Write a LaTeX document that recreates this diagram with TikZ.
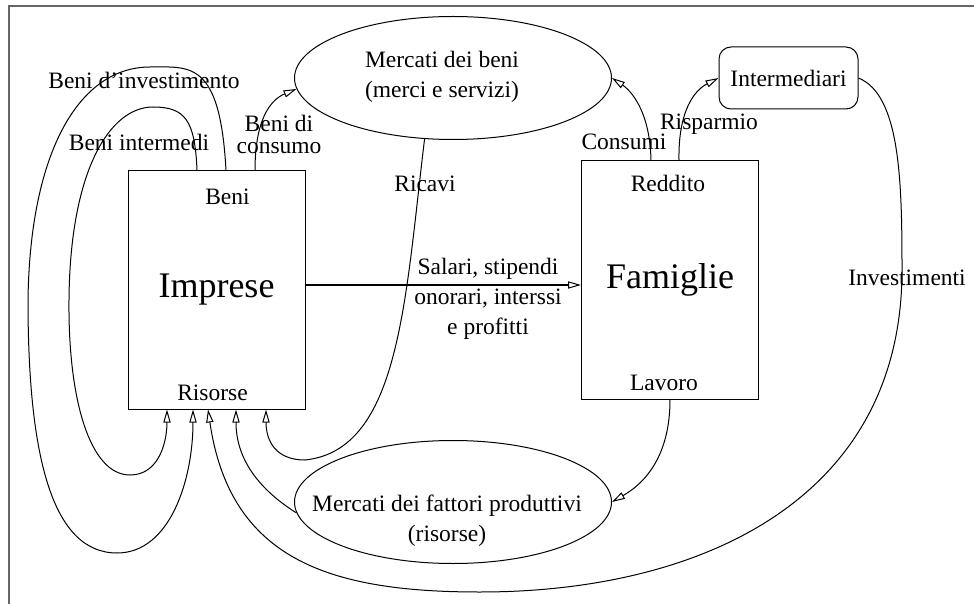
\documentclass[tikz,border=0pt]{standalone}
\usepackage{fontspec}
\setmainfont{Liberation Serif}
\usetikzlibrary{shapes.geometric,arrows.meta,positioning,calc}

\begin{document}
\begin{tikzpicture}[x=0.5pt,y=-0.5pt,line width=0.5pt,
    font=\fontsize{11.75}{15}\selectfont,
    settore/.style={draw,rectangle,minimum width=88.5pt,minimum height=119pt,inner sep=0pt,font=\fontsize{18}{22}\selectfont},
    mercato/.style={draw,ellipse,minimum width=158.5pt,minimum height=61.5pt,inner sep=0pt},
    flusso/.style={-{Triangle[open,length=6.5pt,width=3.6pt]}},
    etichetta/.style={align=center}]
    % Cornice
    \useasboundingbox (0,0) rectangle (974,604);
    \draw[black!60,line width=0.8pt] (9,604) -- (9,6) -- (974,6);

    % Imprese e Famiglie
    \node[settore] (imprese) at (216.5,290) {Imprese};
    \node[settore] (famiglie) at (670,280) {Famiglie};
    \node[below=5.5pt of imprese.north,xshift=5.5pt] (beni) {Beni};
    \node[above=1pt of imprese.south,xshift=-2pt] (risorse) {Risorse};
    \node[below=4pt of famiglie.north,xshift=-1pt] (reddito) {Reddito};
    \node[above=1pt of famiglie.south,xshift=-3pt] (lavoro) {Lavoro};

    % Mercati
    \node[mercato] (mbeni) at (453,78) {};
    \node[etichetta] (tbeni) at (442,77) {Mercati dei beni\\(merci e servizi)};
    \node[mercato] (mfattori) at (453,502) {};
    \node[etichetta] (tfattori) at (447,521) {Mercati dei fattori produttivi\\(risorse)};

    % Intermediari
    \node[draw,rounded corners=6pt,minimum width=69.5pt,minimum height=31pt] (interm) at (788.5,78) {Intermediari};

    % Etichette dei flussi
    \node (investimento) at (144,80) {Beni d'investimento};
    \node (intermedi) at (139,142) {Beni intermedi};
    \node[etichetta] (consumo) at (279,134) {Beni di\\[-4pt]consumo};
    \node (ricavi) at (425,184) {Ricavi};
    \node[etichetta] (salari) at (488,299) {Salari, stipendi\\onorari, interssi\\e profitti};
    \node (consumi) at (624,142) {Consumi};
    \node (risparmio) at (709,124) {Risparmio};
    \node (investimenti) at (907,278) {Investimenti};

    % Beni d'investimento
    \draw[flusso] ($(imprese.north)+(9.5,0)$) .. controls (220,60) and (190,67) .. (150,67)
        .. controls (80,67) and (30,150) .. (28,300)
        .. controls (28,450) and (50,553) .. (117,553)
        .. controls (170,553) and (193,480) .. ($(imprese.south)+(-23.5,0)$);
    % Beni intermedi
    \draw[flusso] ($(imprese.north)+(-19.5,0)$) .. controls (195,120) and (185,107) .. (153,107)
        .. controls (110,107) and (70,170) .. (69,300)
        .. controls (68,400) and (90,475) .. (130,475)
        .. controls (160,475) and (167,440) .. ($(imprese.south)+(-49.5,0)$);
    % Beni di consumo
    \draw[flusso] ($(imprese.north)+(38.5,0)$) .. controls (255,120) and (270,100) .. (mbeni.184);
    % Ricavi
    \draw[flusso] (mbeni.245) .. controls (405,300) and (400,450) .. (305,460)
        .. controls (275,460) and (266,440) .. ($(imprese.south)+(49.5,0)$);
    % Risorse
    \draw[flusso] (mfattori.184) .. controls (260,490) and (236,460) .. ($(imprese.south)+(19.5,0)$);
    % Investimenti
    \draw[flusso] (interm.east) .. controls (900,95) and (902,180) .. (902,270)
        .. controls (902,500) and (700,592) .. (480,592)
        .. controls (330,592) and (230,560) .. ($(imprese.south)+(-8.5,0)$);
    % Salari
    \draw[flusso] ([yshift=2.5pt]imprese.east) -- ([yshift=-2.5pt]famiglie.west);
    % Consumi, risparmio, lavoro
    \draw[flusso] ($(famiglie.north)+(-19,0)$) .. controls (650,110) and (630,90) .. (mbeni.east);
    \draw[flusso] ($(famiglie.north)+(9,0)$) .. controls (678,110) and (695,90) .. (interm.west);
    \draw[flusso] (famiglie.south) .. controls (670,450) and (650,480) .. (mfattori.east);
\end{tikzpicture}
\end{document}
